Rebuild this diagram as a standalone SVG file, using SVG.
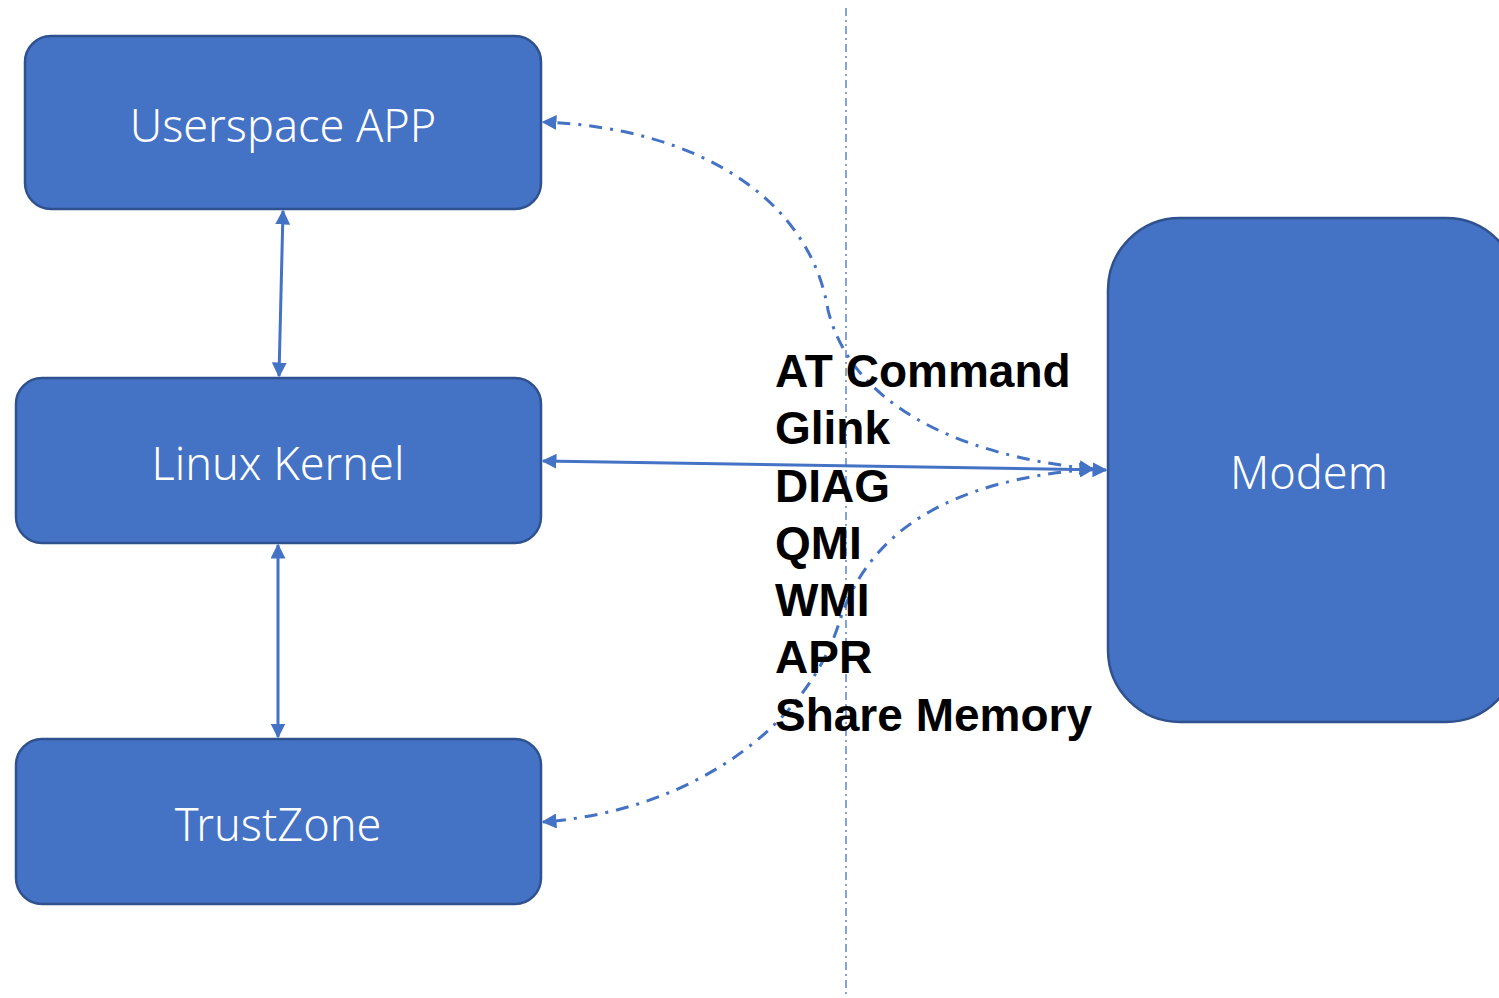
<svg xmlns="http://www.w3.org/2000/svg" width="1499" height="998" viewBox="0 0 1499 998">
<defs>
<marker id="ah" viewBox="0 0 10 10" refX="9" refY="5" markerWidth="5" markerHeight="5" orient="auto-start-reverse" markerUnits="strokeWidth"><path d="M0,0 L10,5 L0,10 z" fill="#4472C4"/></marker>
<marker id="ahs" viewBox="0 0 10 10" refX="9" refY="5" markerWidth="5" markerHeight="5" orient="auto-start-reverse" markerUnits="strokeWidth"><path d="M0,0 L10,5 L0,10 z" fill="#4472C4"/></marker>
</defs>
<style>
.box{fill:#4472C4;stroke:#2F528F;stroke-width:2.5}
.lbl{font-family:"Noto Sans","Open Sans","Liberation Sans",sans-serif;font-weight:300;font-size:45px;fill:#fff;text-anchor:middle}
.proto{font-family:"Liberation Sans",Arial,sans-serif;font-weight:700;font-size:46px;fill:#000}
.solid{stroke:#4472C4;stroke-width:3;fill:none}
.dd{stroke:#4472C4;stroke-width:3;fill:none;stroke-dasharray:13 8 3 8}
</style>
<rect width="1499" height="998" fill="#fff"/>
<line x1="846" y1="8" x2="846" y2="998" stroke="#4472C4" stroke-width="1.3" stroke-dasharray="8 4 2 4"/>
<g id="userspace"><rect class="box" x="25" y="36" width="516" height="173" rx="26"/><text class="lbl" x="283" y="142">Userspace APP</text></g>
<g id="kernel"><rect class="box" x="16" y="378" width="525" height="165" rx="26"/><text class="lbl" x="278" y="480">Linux Kernel</text></g>
<g id="trustzone"><rect class="box" x="16" y="739" width="525" height="165" rx="26"/><text class="lbl" x="278" y="841">TrustZone</text></g>
<g id="modem"><rect class="box" x="1108" y="218" width="410" height="504" rx="72"/><text class="lbl" x="1309" y="489">Modem</text></g>
<g id="connectors">
<line class="solid" x1="283" y1="211" x2="279" y2="376" marker-start="url(#ah)" marker-end="url(#ah)"/>
<line class="solid" x1="278" y1="545" x2="278" y2="737" marker-start="url(#ah)" marker-end="url(#ah)"/>
<line class="solid" x1="543" y1="461" x2="1106" y2="470" marker-start="url(#ah)" marker-end="url(#ah)"/>
<path class="dd" d="M1093,469 C950,455 850,400 828,310 C810,200 700,128 543,122" marker-start="url(#ahs)" marker-end="url(#ahs)"/>
<path class="dd" d="M1093,469 C950,480 870,530 840,620 C810,720 700,810 543,822" marker-start="url(#ahs)" marker-end="url(#ahs)"/>
</g>
<g id="protocols">
<text class="proto" x="775" y="387">AT Command</text>
<text class="proto" x="775" y="444">Glink</text>
<text class="proto" x="775" y="502">DIAG</text>
<text class="proto" x="775" y="559">QMI</text>
<text class="proto" x="775" y="616">WMI</text>
<text class="proto" x="775" y="673">APR</text>
<text class="proto" x="775" y="731">Share Memory</text>
</g>
</svg>
